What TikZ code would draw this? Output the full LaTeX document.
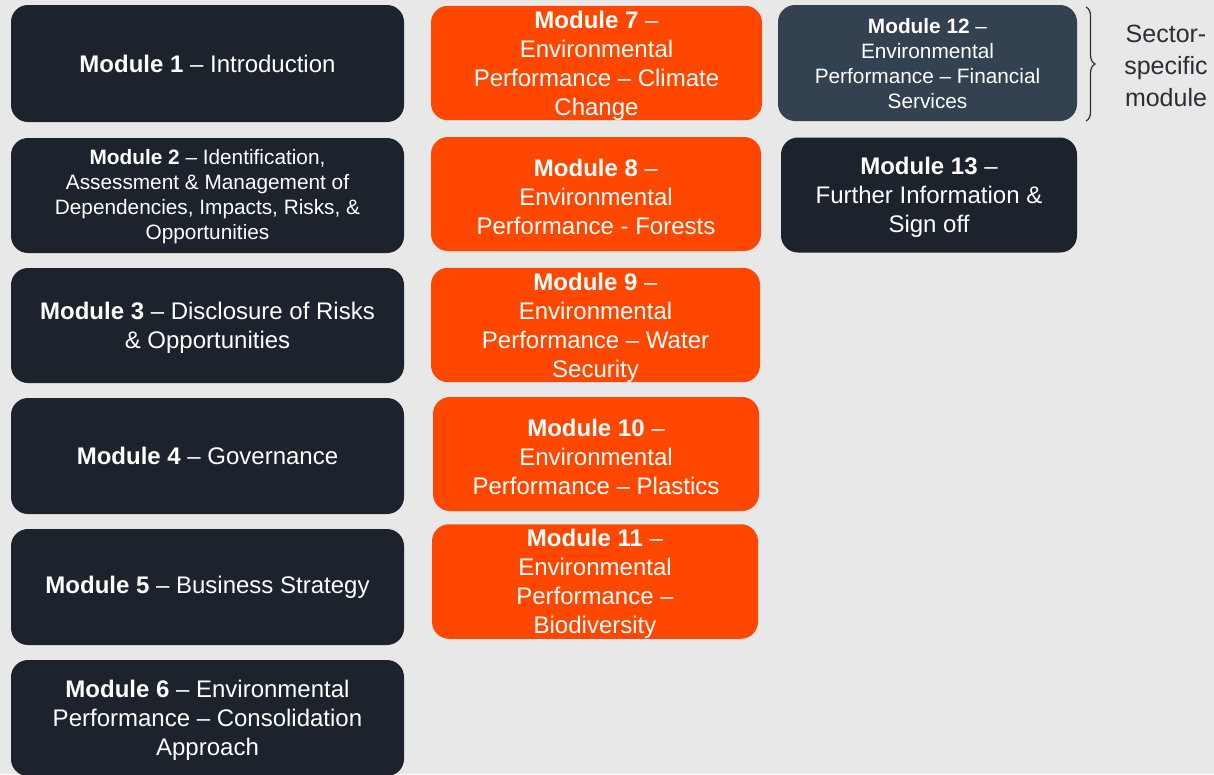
\documentclass[tikz,border=0pt]{standalone}
\usepackage{fontspec}
\setmainfont{Liberation Sans}
\usetikzlibrary{decorations.pathreplacing}
\definecolor{bg}{HTML}{E7E8E7}
\definecolor{darkbox}{HTML}{1D232C}
\definecolor{orangebox}{HTML}{FF4700}
\definecolor{slatebox}{HTML}{334150}
\definecolor{bracecol}{HTML}{2A2F36}
\tikzset{
  modbox/.style={rounded corners=17pt, inner sep=0pt, align=center, text=white, anchor=center},
  bigtxt/.style={font=\fontsize{24}{29}\selectfont},
  smalltxt/.style={font=\fontsize{20.8}{25}\selectfont},
}
\newcommand{\mb}[1]{\textbf{#1}}
\newcommand{\lowerstrut}{\rule{0pt}{22.5pt}}
\newcommand{\smallstrut}{\rule{0pt}{16.5pt}}
\begin{document}
\begin{tikzpicture}[x=1pt,y=-1pt]
\fill[bg] (0,0) rectangle (1214,774);
\useasboundingbox (0,0) rectangle (1214,774);
% column 1
\node[modbox,bigtxt,fill=darkbox,minimum width=393pt,minimum height=117pt] (m1) at (207.5,63.5) {\mb{Module 1} -- Introduction};
\node[modbox,smalltxt,fill=darkbox,minimum width=393pt,minimum height=115pt] (m2) at (207.5,195.5) {\smallstrut\mb{Module 2} -- Identification,\\Assessment \& Management of\\Dependencies, Impacts, Risks, \&\\Opportunities};
\node[modbox,bigtxt,fill=darkbox,minimum width=393pt,minimum height=115pt] (m3) at (207.5,325.5) {\lowerstrut\mb{Module 3} -- Disclosure of Risks\\\& Opportunities};
\node[modbox,bigtxt,fill=darkbox,minimum width=393pt,minimum height=116pt] (m4) at (207.5,456) {\mb{Module 4} -- Governance};
\node[modbox,bigtxt,fill=darkbox,minimum width=393pt,minimum height=116pt] (m5) at (207.5,587) {\mb{Module 5} -- Business Strategy};
\node[modbox,bigtxt,fill=darkbox,minimum width=393pt,minimum height=116pt] (m6) at (207.5,718) {\lowerstrut\mb{Module 6} -- Environmental\\Performance -- Consolidation\\Approach};
% column 2
\node[modbox,bigtxt,fill=orangebox,minimum width=331pt,minimum height=114pt] (m7) at (596.5,63) {\lowerstrut\mb{Module 7} --\\Environmental\\Performance -- Climate\\Change};
\node[modbox,bigtxt,fill=orangebox,minimum width=330pt,minimum height=114pt] (m8) at (596,194) {\lowerstrut\mb{Module 8} --\\Environmental\\Performance - Forests};
\node[modbox,bigtxt,fill=orangebox,minimum width=329pt,minimum height=114pt] (m9) at (595.5,325) {\lowerstrut\mb{Module 9} --\\Environmental\\Performance -- Water\\Security};
\node[modbox,bigtxt,fill=orangebox,minimum width=326pt,minimum height=114pt] (m10) at (596,454) {\lowerstrut\mb{Module 10} --\\Environmental\\Performance -- Plastics};
\node[modbox,bigtxt,fill=orangebox,minimum width=326pt,minimum height=113pt] (m11) at (595,581.5) {\lowerstrut\mb{Module 11} --\\Environmental\\Performance --\\Biodiversity};
% column 3
\node[modbox,smalltxt,fill=slatebox,minimum width=299pt,minimum height=116pt] (m12) at (927.5,63) {\smallstrut\mb{Module 12} --\\Environmental\\Performance -- Financial\\Services};
\node[modbox,bigtxt,fill=darkbox,minimum width=296pt,minimum height=115pt] (m13) at (929,195) {\lowerstrut\mb{Module 13} --\\Further Information \&\\Sign off};
% brace
\coordinate (bt) at (1086,7);
\coordinate (bb) at (1086,121);
\draw[bracecol, line width=1.2pt, decorate, decoration={brace, amplitude=9pt}] (bt) -- (bb);
\node[text=bracecol, align=center, font=\fontsize{25}{32}\selectfont, anchor=center] (sec) at (1166,66) {Sector-\\specific\\module};
\end{tikzpicture}
\end{document}
